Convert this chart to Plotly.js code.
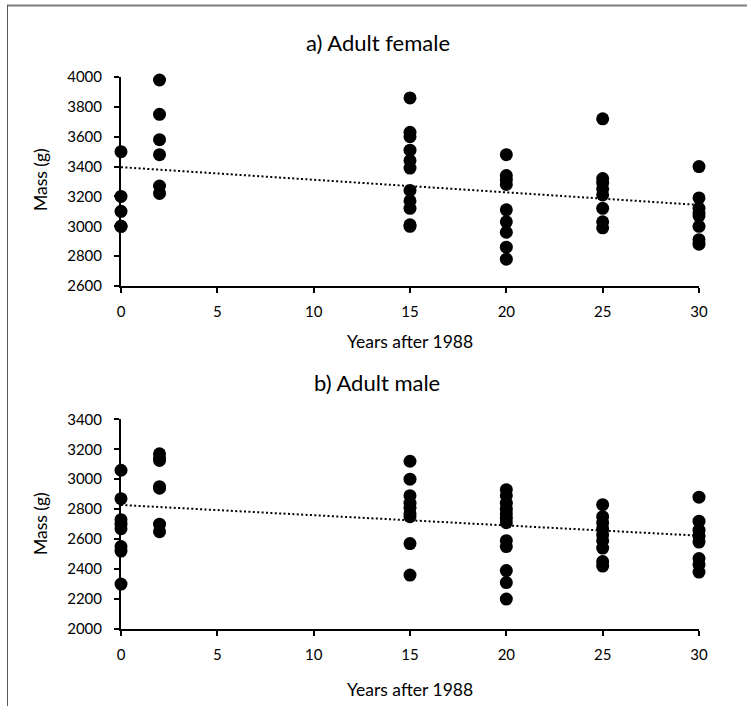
<!DOCTYPE html>
<html>
<head>
<meta charset="utf-8">
<script src="https://cdn.plot.ly/plotly-3.0.1.min.js"></script>
<style>html,body{margin:0;padding:0;background:#fff;}#chart{width:747px;height:706px;}</style>
</head>
<body>
<div id="chart"></div>
<script>
// ---- Data ----
const femaleX0 = [3500, 3200, 3100, 3000, 3000];
const femaleX2 = [3980, 3750, 3580, 3480, 3270, 3220];
const femaleX15 = [3860, 3630, 3600, 3510, 3440, 3390, 3240, 3170, 3120, 3010, 3000];
const femaleX20 = [3480, 3340, 3310, 3280, 3110, 3030, 2960, 2860, 2780];
const femaleX25 = [3720, 3320, 3290, 3250, 3210, 3120, 3030, 2990];
const femaleX30 = [3400, 3190, 3120, 3090, 3070, 3000, 2910, 2880];

const maleX0 = [3060, 2870, 2730, 2700, 2670, 2550, 2520, 2300];
const maleX2 = [3170, 3140, 3125, 2950, 2940, 2700, 2650];
const maleX15 = [3120, 3000, 2890, 2840, 2810, 2770, 2750, 2570, 2360];
const maleX20 = [2930, 2890, 2840, 2800, 2770, 2740, 2710, 2590, 2550, 2390, 2310, 2200];
const maleX25 = [2830, 2750, 2710, 2670, 2630, 2590, 2540, 2450, 2420];
const maleX30 = [2880, 2720, 2660, 2620, 2580, 2470, 2430, 2380];

const years = [0, 2, 15, 20, 25, 30];
const trendX = [0, 30];
const femaleTrendY = [3396, 3143];
const maleTrendY = [2828, 2623];

const femaleTitle = "a) Adult female";
const maleTitle = "b) Adult male";
const xTitle = "Years after 1988";
const yTitle = "Mass (g)";

// ---- Build traces ----
function flatten(groups) {
  const xs = [], ys = [];
  groups.forEach((g, i) => g.forEach(v => { xs.push(years[i]); ys.push(v); }));
  return {xs, ys};
}
const F = flatten([femaleX0, femaleX2, femaleX15, femaleX20, femaleX25, femaleX30]);
const M = flatten([maleX0, maleX2, maleX15, maleX20, maleX25, maleX30]);

const marker = {size: 13, color: '#000'};
const trendLine = {color: '#000', width: 2, dash: '2px,2.4px'};

const traces = [
  {x: trendX, y: femaleTrendY, mode: 'lines', line: trendLine, xaxis: 'x', yaxis: 'y', hoverinfo: 'skip'},
  {x: F.xs, y: F.ys, mode: 'markers', marker: marker, xaxis: 'x', yaxis: 'y', cliponaxis: false},
  {x: trendX, y: maleTrendY, mode: 'lines', line: trendLine, xaxis: 'x2', yaxis: 'y2', hoverinfo: 'skip'},
  {x: M.xs, y: M.ys, mode: 'markers', marker: marker, xaxis: 'x2', yaxis: 'y2', cliponaxis: false}
];

const FONT = 'Lato, "Open Sans", sans-serif';
const tickFont = {family: FONT, size: 15, color: '#000'};

function xAxis(anchor) {
  return {
    anchor: anchor, range: [0, 30], tickmode: 'linear', tick0: 0, dtick: 5,
    showline: true, linecolor: '#000', linewidth: 2,
    ticks: 'outside', ticklen: 5, tickwidth: 2, tickcolor: '#000',
    showgrid: false, zeroline: false, tickfont: tickFont, ticklabelstandoff: 6,
    fixedrange: true
  };
}
function yAxis(anchor, range, domain) {
  return {
    anchor: anchor, range: range, domain: domain, tickmode: 'linear', tick0: range[0], dtick: 200,
    showline: true, linecolor: '#000', linewidth: 2,
    ticks: 'outside', ticklen: 5, tickwidth: 2, tickcolor: '#000',
    showgrid: false, zeroline: false, tickfont: tickFont, ticklabelstandoff: 9,
    fixedrange: true
  };
}

// pixel -> paper helpers (plot area: x 121..699, y 77..629)
const L = 121, R = 48, T = 77, B = 77, W = 747, H = 706;
const pw = W - L - R, ph = H - T - B;
const px = v => (v - L) / pw;
const py = v => (H - B - v) / ph;

const titleFont = {family: FONT, size: 22, color: '#000'};
const axTitleFont = {family: FONT, size: 17.5, color: '#000'};

const annotations = [
  {text: femaleTitle, x: px(378), y: py(42), font: titleFont},
  {text: xTitle, x: px(410), y: py(341), font: axTitleFont},
  {text: maleTitle, x: px(377), y: py(382), font: titleFont},
  {text: xTitle, x: px(410), y: py(689), font: axTitleFont},
  {text: yTitle, x: px(40), y: py(180), font: axTitleFont, textangle: -90},
  {text: yTitle, x: px(40), y: py(524), font: axTitleFont, textangle: -90}
].map(a => Object.assign({xref: 'paper', yref: 'paper', showarrow: false, xanchor: 'center', yanchor: 'middle'}, a));

const shapes = [
  {type: 'line', xref: 'paper', yref: 'paper', x0: px(7), x1: px(747), y0: py(5.5), y1: py(5.5), line: {color: '#7f7f7f', width: 2}},
  {type: 'line', xref: 'paper', yref: 'paper', x0: px(7.5), x1: px(7.5), y0: py(5), y1: py(706), line: {color: '#595959', width: 1}}
];

const layout = {
  width: W, height: H,
  margin: {l: L, r: R, t: T, b: B},
  paper_bgcolor: '#fff', plot_bgcolor: 'rgba(0,0,0,0)',
  showlegend: false,
  xaxis: xAxis('y'),
  yaxis: yAxis('x', [2600, 4000], [py(286), 1]),
  xaxis2: xAxis('y2'),
  yaxis2: yAxis('x2', [2000, 3400], [0, py(419.3)]),
  annotations: annotations,
  shapes: shapes,
  font: {family: FONT, color: '#000'}
};

Plotly.newPlot('chart', traces, layout, {displayModeBar: false, staticPlot: true});
</script>
</body>
</html>
